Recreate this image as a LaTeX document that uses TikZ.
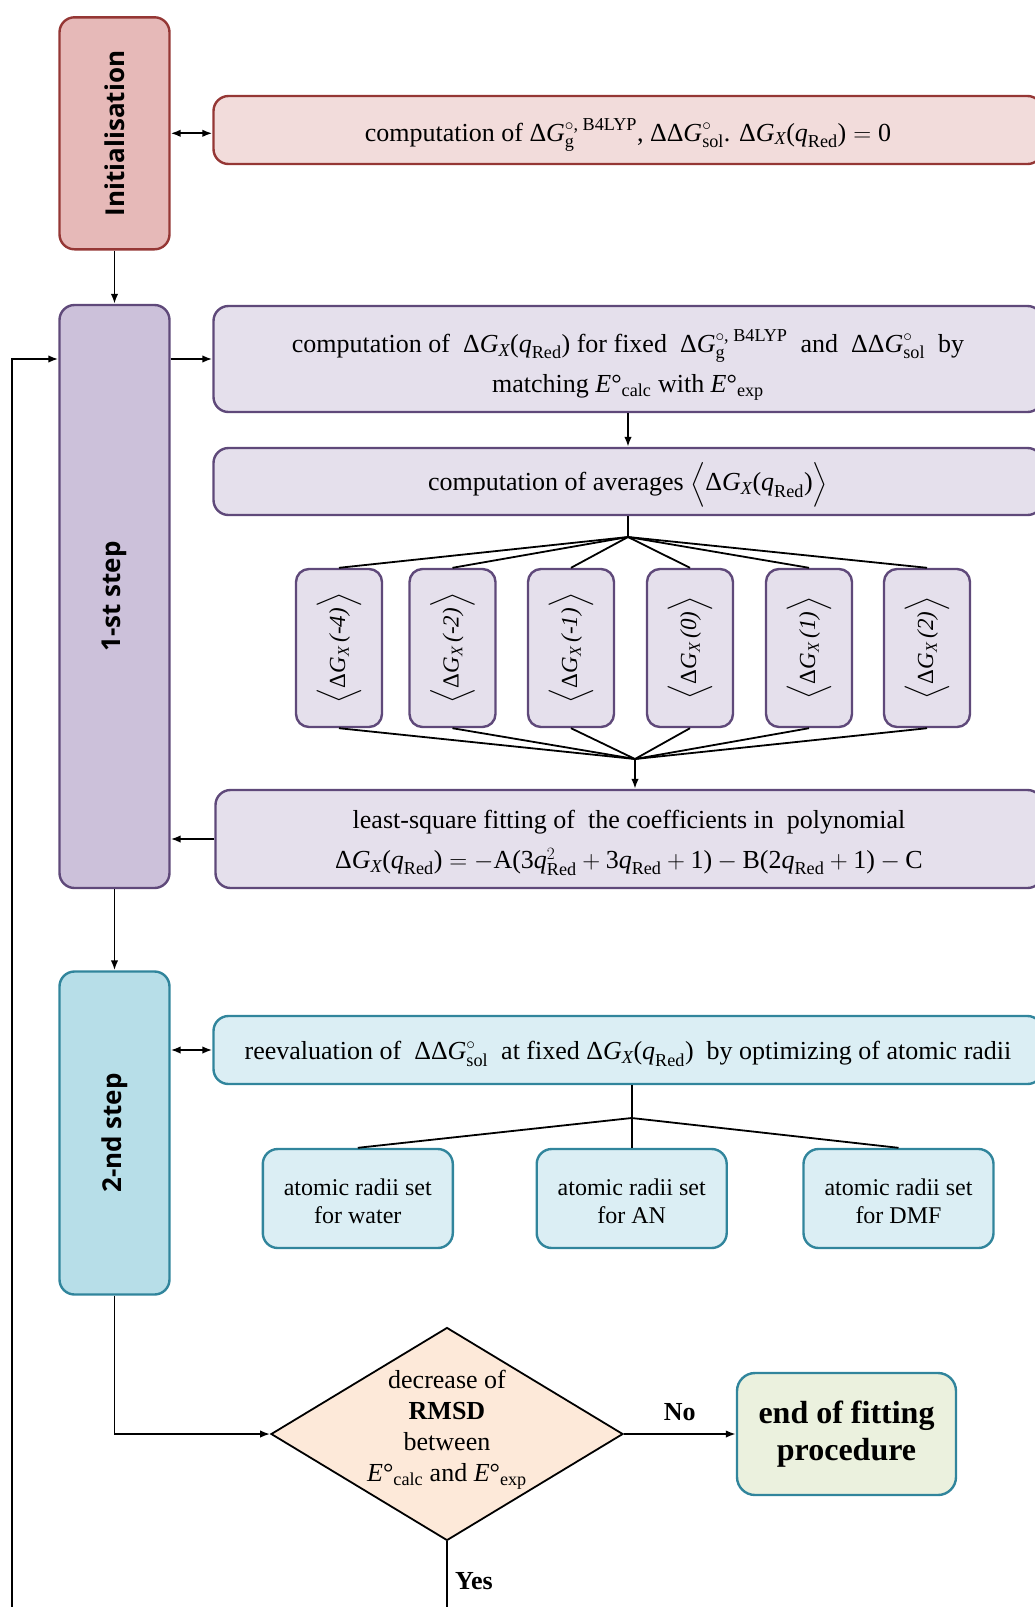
\documentclass[tikz,border=0pt]{standalone}
\usepackage{amsmath}
\usepackage{graphicx}
\usepackage{fontspec}
\setmainfont{Liberation Serif}
\newfontfamily\labfont{Open Sans}
\usetikzlibrary{shapes.geometric,arrows.meta}
\definecolor{initfill}{HTML}{E6B9B8}
\definecolor{initdraw}{HTML}{953735}
\definecolor{initlight}{HTML}{F2DCDB}
\definecolor{onefill}{HTML}{CCC1DA}
\definecolor{onedraw}{HTML}{5F497A}
\definecolor{onelight}{HTML}{E5E0EC}
\definecolor{twofill}{HTML}{B7DEE8}
\definecolor{twodraw}{HTML}{31859C}
\definecolor{twolight}{HTML}{DBEEF4}
\definecolor{diafill}{HTML}{FDE9D9}
\definecolor{endfill}{HTML}{EBF1DE}
\newcommand\myDG{\text{Δ\textit{G}}}
\newcommand\myDGg{$\myDG^{\circ\text{, B4LYP}}_{\text{g}}$}
\newcommand\myDDG{$\text{ΔΔ\textit{G}}^{\circ}_{\text{sol}}$}
\newcommand\myDGXq{$\myDG_{\textit{X}}\text{(}\textit{q}_{\text{Red}}\text{)}$}
\newcommand\mySmall[1]{\rotatebox{90}{$\Bigl\langle\myDG_{\textit{X}}\text{\,\textit{(#1)}}\Bigr\rangle$}}
\begin{document}
\begin{tikzpicture}[x=1pt,y=-1pt,
  conn/.style={line width=1.8pt, draw=black},
  arr/.style={conn, -{Latex[length=10pt,width=7.5pt]}},
  darr/.style={conn, {Latex[length=10pt,width=7.5pt]}-{Latex[length=10pt,width=7.5pt]}},
  stagebox/.style={draw, rounded corners=15pt, line width=2.4pt, minimum width=110pt, inner sep=0pt},
  txtbox/.style={draw, rounded corners=15pt, line width=2.4pt, inner sep=0pt, minimum width=829pt},
  boxtext/.style={inner sep=0pt, align=center, font=\fontsize{26}{40}\selectfont},
  smallbox/.style={draw=onedraw, fill=onelight, rounded corners=13pt, line width=2.4pt, inner sep=0pt,
    minimum width=86pt, minimum height=158pt, font=\fontsize{23}{26}\selectfont},
  setbox/.style={draw=twodraw, fill=twolight, rounded corners=15pt, line width=2.4pt, inner sep=0pt,
    minimum width=190pt, minimum height=99pt},
  settext/.style={inner sep=0pt, align=center, font=\fontsize{24}{28}\selectfont},
  decision/.style={diamond, draw=black, fill=diafill, line width=1.8pt, inner sep=0pt, shape aspect=1.65,
    minimum width=352pt, minimum height=213pt},
  diatext/.style={inner sep=0pt, align=center, font=\fontsize{26}{31}\selectfont},
  endbox/.style={draw=twodraw, fill=endfill, rounded corners=18pt, line width=2.4pt, inner sep=0pt,
    minimum width=219pt, minimum height=122pt, align=center, font=\bfseries\fontsize{32}{37}\selectfont},
  answer/.style={font=\bfseries\fontsize{26}{30}\selectfont}]
\useasboundingbox (0,0) rectangle (1035,1607);
\clip (0,0) rectangle (1035,1607);

% stage boxes
\node[stagebox, fill=initfill, draw=initdraw, minimum height=232pt] (init) at (114.5,133.3)
  {\rotatebox{90}{\labfont\bfseries\fontsize{26}{30}\selectfont Initialisation}};
\node[stagebox, fill=onefill, draw=onedraw, minimum height=583pt] (step1) at (114.5,596.5)
  {\rotatebox{90}{\labfont\bfseries\fontsize{26}{30}\selectfont 1-st step}};
\node[stagebox, fill=twofill, draw=twodraw, minimum height=323pt] (step2) at (114.5,1133)
  {\rotatebox{90}{\labfont\bfseries\fontsize{26}{30}\selectfont 2-nd step}};

% initialisation
\node[txtbox, fill=initlight, draw=initdraw, minimum height=68pt] (initTxt) at (628,130) {};
\node[boxtext] (initTxtT) at ([yshift=-5pt]initTxt.center)
  {computation of \myDGg, \myDDG. \myDGXq$\;=\;$0};

% first step
\node[txtbox, fill=onelight, draw=onedraw, minimum height=106pt] (c1) at (628,359) {};
\node[boxtext] (c1T) at ([yshift=-6pt]c1.center)
  {computation of \ \myDGXq{} for fixed \ \myDGg{} \ and \ \myDDG{} \ by\\
   matching \textit{E}°\textsubscript{calc} with \textit{E}°\textsubscript{exp}};
\node[txtbox, fill=onelight, draw=onedraw, minimum height=67pt] (c2) at (628,481.5) {};
\node[boxtext] (c2T) at ([yshift=-3pt]c2.center)
  {computation of averages $\Bigl\langle\myDG_{\textit{X}}\text{(}\textit{q}_{\text{Red}}\text{)}\Bigr\rangle$};

\node[smallbox] (s1) at (339,648) {\mySmall{-4}};
\node[smallbox] (s2) at (452.5,648) {\mySmall{-2}};
\node[smallbox] (s3) at (571,648) {\mySmall{-1}};
\node[smallbox] (s4) at (690,648) {\mySmall{0}};
\node[smallbox] (s5) at (809,648) {\mySmall{1}};
\node[smallbox] (s6) at (927,648) {\mySmall{2}};

\node[txtbox, fill=onelight, draw=onedraw, minimum height=98pt, minimum width=827pt] (ls) at (629,839) {};
\node[boxtext] (lsT) at ([yshift=-4pt]ls.center)
  {least-square fitting of \ the coefficients in \ polynomial\\
   \myDGXq$\;=-\text{A(3}\textit{q}^{2}_{\text{Red}}+\text{3}\textit{q}_{\text{Red}}+\text{1)}-\text{B(2}\textit{q}_{\text{Red}}+\text{1)}-\text{C}$};

% second step
\node[txtbox, fill=twolight, draw=twodraw, minimum height=68pt] (re) at (628,1050) {};
\node[boxtext] (reT) at ([yshift=-4pt]re.center)
  {reevaluation of \ \myDDG{} \ at fixed \myDGXq{} \ by optimizing of atomic radii};
\node[setbox] (b1) at (357.8,1198.5) {};
\node[setbox] (b2) at (631.7,1198.5) {};
\node[setbox] (b3) at (898.5,1198.5) {};
\node[settext] (b1T) at ([yshift=-3pt]b1.center) {atomic radii set\\for water};
\node[settext] (b2T) at ([yshift=-3pt]b2.center) {atomic radii set\\for AN};
\node[settext] (b3T) at ([yshift=-3pt]b3.center) {atomic radii set\\for DMF};

% decision
\node[decision] (dia) at (447,1434) {};
\node[diatext] (diaT) at ([yshift=4pt]dia.center)
  {decrease of\\ \textbf{RMSD}\\ between\\ \textit{E}°\textsubscript{calc} and \textit{E}°\textsubscript{exp}};
\node[endbox] (end) at (846.5,1434) {end of fitting\\procedure};

% coordinates
\coordinate (fanT) at (628,537);
\coordinate (fanB) at (635,759);
\coordinate (fanR) at (631.7,1118);
\coordinate (loopB) at (12,1607);
\coordinate (yesB) at (447,1607);

% connectors
\draw[darr] (init.east) -- (init.east -| initTxt.west);
\draw[arr] (init.south) -- (step1.north);
\draw[arr] (c1.west -| step1.east) -- (c1.west);
\draw[arr] (loopB) |- (c1.west -| step1.west);
\draw[arr] (c1.south) -- (c2.north);
\draw[conn] (c2.south) -- (fanT);
\foreach \i in {1,...,6} {\draw[conn] (fanT) -- (s\i.north); \draw[conn] (s\i.south) -- (fanB);}
\draw[arr] (fanB) -- (fanB |- ls.north);
\draw[arr] (ls.west) -- (ls.west -| step1.east);
\draw[arr] (step1.south) -- (step2.north);
\draw[darr] (re.west -| step2.east) -- (re.west);
\draw[conn] (b2.north |- re.south) -- (b2.north);
\draw[conn] (fanR) -- (b1.north);
\draw[conn] (fanR) -- (b3.north);
\draw[arr] (step2.south) |- (dia.west);
\draw[arr] (dia.east) -- node[answer, above=9pt] {No} (end.west);
\draw[conn] (dia.south) -- node[answer, right=4pt, pos=0.6] {Yes} (yesB);
\end{tikzpicture}
\end{document}
